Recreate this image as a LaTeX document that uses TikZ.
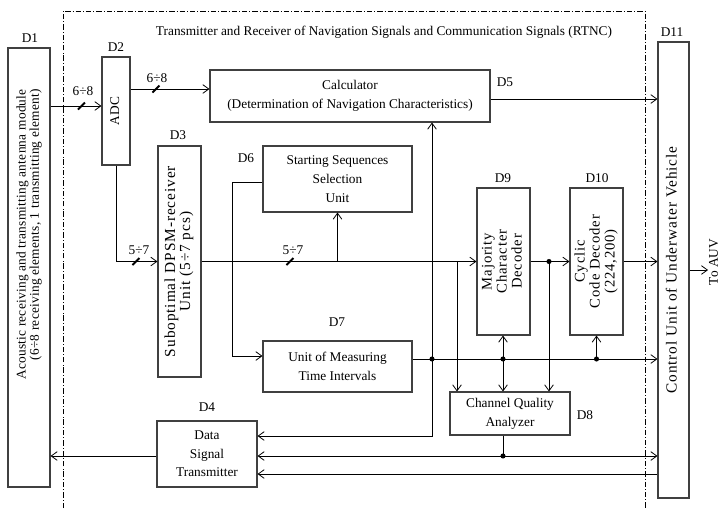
\documentclass[tikz,border=0pt]{standalone}
\usepackage{fontspec}
\setmainfont{Liberation Serif}
\newfontfamily\spacedfont[LetterSpace=6]{Liberation Serif}
\newfontfamily\lightspaced[LetterSpace=2]{Liberation Serif}
\usetikzlibrary{arrows.meta,calc}

% rotated, multi-line block text: size, line distance, lines
\newcommand\vtext[3]{\rotatebox{90}{\fontsize{#1}{#2}\spacedfont\begin{tabular}{@{}c@{}}#3\end{tabular}}}

\tikzset{
  blk/.style={draw=black!75, line width=0.8pt, inner sep=0pt, align=center,
              font=\fontsize{10}{14}\selectfont},
  sz/.style 2 args={minimum width=#1*0.75pt, minimum height=#2*0.75pt},
  wire/.style={line width=0.6pt},
  arr/.style={wire, -{Straight Barb[length=4.5pt,width=6.5pt]}},
  lbl/.style={font=\fontsize{10}{12}\selectfont, inner sep=0pt},
  junc/.style={circle, fill, inner sep=0pt, minimum size=3.8pt},
  rtncframe/.style={line width=0.6pt, dash pattern=on 4pt off 1.6pt on 0.6pt off 1.6pt},
  busslash/.style={line width=1.4pt},
}

\begin{document}
\begin{tikzpicture}[x=0.75pt, y=-0.75pt]
\useasboundingbox (0,0) rectangle (721,508);

% boundary of the RTNC unit
\draw[rtncframe] (63,508) -- (63,11) -- (645,11) -- (645,508);
\node[lbl] (title) at (384,32) {Transmitter and Receiver of Navigation Signals and Communication Signals (RTNC)};

% blocks
\node[blk, sz={42}{439}] (D1) at (29,267.5) {};
\node[inner sep=0pt, rotate=90, anchor=east] (D1txt) at (29.5,89)
  {\fontsize{10}{10}\lightspaced\begin{tabular}{@{}r@{}}Acoustic receiving and transmitting antenna module\\(6÷8 receiving elements, 1 transmitting element)\end{tabular}};
\node[blk, sz={28}{108}] (D2) at (116,111) {\vtext{10}{12}{ADC}};
\node[blk, sz={43}{231}] (D3) at (179.5,261.5)
  {\vtext{11.5}{11}{Suboptimal DPSM-receiver\\Unit (5÷7 pcs)}};
\node[blk, sz={280}{52}] (D5) at (350,96)
  {Calculator\\(Determination of Navigation Characteristics)};
\node[blk, sz={149}{66}] (D6) at (337.5,179) {Starting Sequences\\Selection\\Unit};
\node[blk, sz={149}{51}] (D7) at (337.5,366.5) {Unit of Measuring\\Time Intervals};
\node[blk, sz={53}{147}] (D9) at (503.5,261.5) {\vtext{11}{11.25}{Majority\\Character\\Decoder}};
\node[blk, sz={53}{147}] (D10) at (596.5,261.5) {\vtext{11}{11.25}{Cyclic\\Code Decoder\\(224,200)}};
\node[blk, sz={120}{43}] (D8) at (510,413.5) {Channel Quality\\Analyzer};
\node[blk, sz={100}{66}] (D4) at (207,454) {Data\\Signal\\Transmitter};
\node[blk, sz={31}{456}] (D11) at (673.5,270)
  {\vtext{11.5}{12}{Control Unit of Underwater Vehicle}};

% block labels
\node[lbl] (lD1) at (30,38) {D1};
\node[lbl] (lD2) at (116,47) {D2};
\node[lbl] (lD3) at (178,135) {D3};
\node[lbl] (lD4) at (207,407) {D4};
\node[lbl] (lD5) at (505,82) {D5};
\node[lbl] (lD6) at (246,158) {D6};
\node[lbl] (lD7) at (337,322) {D7};
\node[lbl] (lD8) at (585,415) {D8};
\node[lbl] (lD9) at (503,178) {D9};
\node[lbl] (lD10) at (597,178) {D10};
\node[lbl] (lD11) at (672,32) {D11};
\node[lbl, rotate=90, inner sep=0.5pt] (toauv) at (713.5,262) {To AUV};

% signal levels and vertical runs
\coordinate (h1) at (0,106);
\coordinate (h2) at (0,89);
\coordinate (h3) at (0,99);
\coordinate (h6) at (0,182);
\coordinate (h7i) at (0,356);
\coordinate (h7) at (0,359);
\coordinate (h4a) at (0,436);
\coordinate (h4b) at (0,456);
\coordinate (h4c) at (0,474);
\coordinate (hauv) at (0,270);
\coordinate (vL) at (232,0);
\coordinate (vT) at (432,0);
\coordinate (vQ) at (457,0);
\coordinate (vM) at (503,0);
\coordinate (vC) at (549,0);

% junctions
\coordinate (jT) at (vT |- h7);
\coordinate (jM) at (vM |- h7);
\coordinate (jD) at (D10.south |- h7);
\coordinate (jC) at (vC |- D9.east);
\coordinate (jQ) at (vM |- h4b);

% connectors
\draw[arr] (D1.east |- h1) -- (D2.west |- h1);
\draw[arr] (D2.east |- h2) -- (D5.west |- h2);
\draw[arr] (D2.south) |- (D3.west);
\draw[arr] (D3.east) -- (D9.west);
\draw[arr] (D6.south |- D3.east) -- (D6.south);
\draw[arr] (D6.west |- h6) -- (vL |- h6) -- (vL |- h7i) -- (D7.west |- h7i);
\draw[arr] (vQ |- D3.east) -- (vQ |- D8.north);
\draw[arr] (D9.east) -- (D10.west);
\draw[arr] (jC) -- (vC |- D8.north);
\draw[arr] (D10.east) -- (D11.west |- D10.east);
\draw[arr] (D5.east |- h3) -- (D11.west |- h3);
\draw[arr] (D7.east |- h7) -- (D11.west |- h7);
\draw[arr] (jT) -- (vT |- D5.south);
\draw[arr] (jT) -- (vT |- h4a) -- (D4.east |- h4a);
\draw[arr] (jM) -- (vM |- D9.south);
\draw[arr] (jM) -- (vM |- D8.north);
\draw[arr] (jD) -- (D10.south);
\draw[wire] (vM |- D8.south) -- (jQ);
\draw[arr] (jQ) -- (D4.east |- h4b);
\draw[arr] (jQ) -- (D11.west |- h4b);
\draw[arr] (D11.west |- h4c) -- (D4.east |- h4c);
\draw[arr] (D4.west |- h4b) -- (D1.east |- h4b);
\draw[arr] (D11.east |- hauv) -- (toauv.north |- hauv);

% junction dots
\node[junc] (dT) at (jT) {};
\node[junc] (dM) at (jM) {};
\node[junc] (dD) at (jD) {};
\node[junc] (dC) at (jC) {};
\node[junc] (dQ) at (jQ) {};

% bus width marks
\coordinate (m1) at (81.5,106);
\coordinate (m2) at (156,89);
\coordinate (m3) at (136,261.5);
\coordinate (m4) at (290,261.5);
\foreach \m in {m1,m2,m3,m4}
  \draw[busslash] ($(\m)+(-3.5,3.5)$) -- ($(\m)+(3.5,-3.5)$);
\node[lbl] (t1) at (83,91) {6÷8};
\node[lbl] (t2) at (157,78) {6÷8};
\node[lbl] (t3) at (139,250) {5÷7};
\node[lbl] (t4) at (293,250) {5÷7};
\end{tikzpicture}
\end{document}
